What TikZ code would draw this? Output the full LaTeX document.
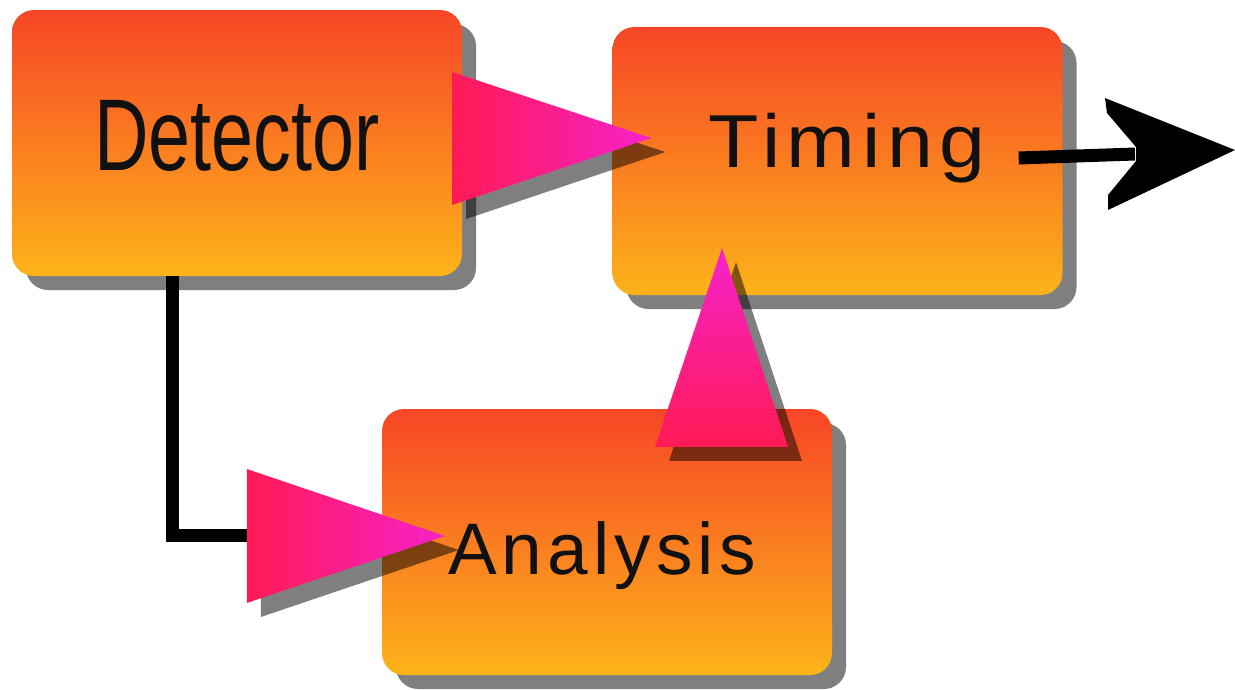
\documentclass[tikz,border=0pt]{standalone}
\usepackage{fontspec}
\usepackage{graphicx}
\setmainfont{Liberation Sans}
\usetikzlibrary{shadows,calc}
\definecolor{boxtop}{HTML}{F74626}
\definecolor{boxbot}{HTML}{FDB31A}
\definecolor{trired}{HTML}{FF1A55}
\definecolor{trimag}{HTML}{F622CA}
\definecolor{ink}{HTML}{111111}
\tikzset{
  softshadow/.style={drop shadow={shadow xshift=14pt, shadow yshift=-14pt, opacity=0.5, fill=black}},
  blockbox/.style={rectangle, rounded corners=22pt, minimum width=450pt, minimum height=266pt,
    inner sep=0pt, top color=boxtop, bottom color=boxbot, draw=none, softshadow},
  trih/.style={softshadow, left color=trired, right color=trimag},
  triv/.style={softshadow, bottom color=trired, top color=trimag},
  wire/.style={line width=13pt, draw=black, line join=miter},
  lbl/.style={anchor=base west, inner sep=0pt, text=ink}
}
\begin{document}
\begin{tikzpicture}[x=1pt,y=-1pt]
\useasboundingbox (0,0) rectangle (1235,689);
% boxes
\node[blockbox] (det) at (237,143) {};
\node[blockbox, minimum height=268pt] (tim) at (837.5,161) {};
\node[blockbox] (ana) at (607,542) {};
% Detector -> Analysis wire
\draw[wire] ($(det.south)+(-65,0)$) |- ($(ana.west)+(-135,-6.5)$);
% Timing output
\coordinate (outtip) at (1235,150);
\draw[wire] ($(tim.east)+(-44,-3)$) -- ($(outtip)+(-100,4)$);
\fill[black] (outtip) -- ($(outtip)+(-130,-52)$) -- ($(outtip)+(-128,-37)$)
  -- ($(outtip)+(-99,-3)$) -- ($(outtip)+(-99,11)$) -- ($(outtip)+(-127,45)$)
  -- ($(outtip)+(-127,60)$) -- cycle;
% triangles
\shade[trih] ($(det.east)+(-10,-71)$) -- ($(tim.west)+(39,-23)$) -- ($(det.east)+(-10,62)$) -- cycle;
\shade[triv] ($(ana.north)+(48,38)$) -- ($(ana.north)+(181,38)$) -- ($(tim.south)+(-115.5,-47)$) -- cycle;
\shade[trih] ($(ana.west)+(-135,-73)$) -- ($(ana.west)+(63,-6)$) -- ($(ana.west)+(-135,61)$) -- cycle;
% labels
\node[lbl] (detl) at (94,170) {\fontsize{102}{110}\selectfont\scalebox{0.74}[1]{Detector}};
\node[lbl] (timl) at (708,167) {\fontsize{75}{80}\selectfont\scalebox{1.1}[1]{\addfontfeatures{LetterSpace=8}Timing}};
\node[lbl] (anal) at (448,574) {\fontsize{73}{78}\selectfont\addfontfeatures{LetterSpace=7}Analysis};
\end{tikzpicture}
\end{document}
